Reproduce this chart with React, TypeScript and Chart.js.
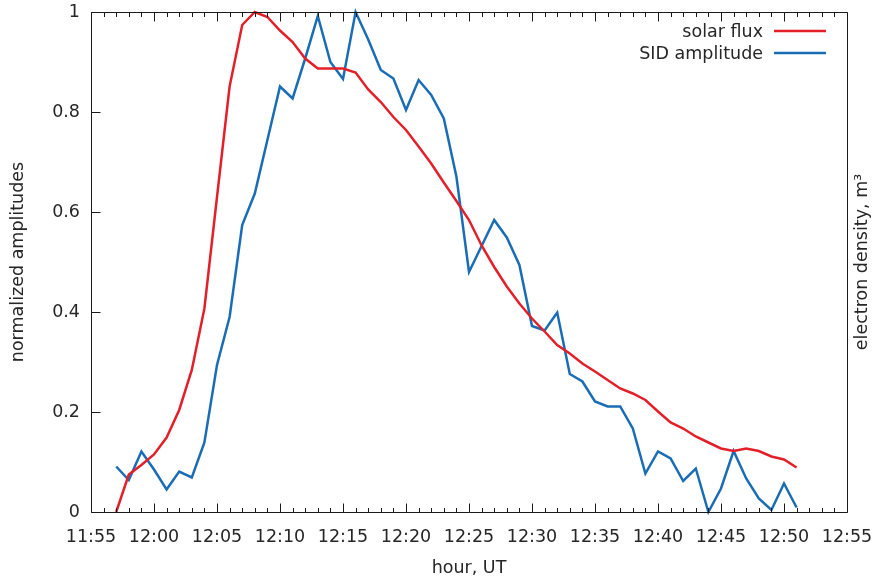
import { useEffect, useRef } from "react";
import { Chart, registerables } from "chart.js";

Chart.register(...registerables);

// Sample times (UT), one per minute
const times = [
  "11:57", "11:58", "11:59",
  "12:00", "12:01", "12:02", "12:03", "12:04", "12:05", "12:06", "12:07", "12:08", "12:09",
  "12:10", "12:11", "12:12", "12:13", "12:14", "12:15", "12:16", "12:17", "12:18", "12:19",
  "12:20", "12:21", "12:22", "12:23", "12:24", "12:25", "12:26", "12:27", "12:28", "12:29",
  "12:30", "12:31", "12:32", "12:33", "12:34", "12:35", "12:36", "12:37", "12:38", "12:39",
  "12:40", "12:41", "12:42", "12:43", "12:44", "12:45", "12:46", "12:47", "12:48", "12:49",
  "12:50", "12:51",
];

const solarFlux = [
  0.0, 0.075, 0.094,
  0.115, 0.149, 0.204, 0.284, 0.407, 0.63, 0.851, 0.974, 1.0, 0.99,
  0.963, 0.94, 0.907, 0.887, 0.887, 0.887, 0.879, 0.845, 0.82, 0.79,
  0.764, 0.731, 0.697, 0.659, 0.622, 0.584, 0.533, 0.49, 0.451, 0.417,
  0.387, 0.361, 0.334, 0.317, 0.297, 0.281, 0.264, 0.247, 0.237, 0.224,
  0.201, 0.179, 0.167, 0.151, 0.139, 0.127, 0.122, 0.127, 0.122, 0.111,
  0.105, 0.089,
];

const sidAmplitude = [
  0.091, 0.064, 0.121,
  0.085, 0.045, 0.081, 0.069, 0.139, 0.294, 0.39, 0.574, 0.637, 0.744,
  0.851, 0.827, 0.907, 0.992, 0.9, 0.866, 1.0, 0.945, 0.884, 0.867,
  0.804, 0.864, 0.834, 0.787, 0.671, 0.48, 0.532, 0.584, 0.549, 0.494,
  0.372, 0.363, 0.399, 0.276, 0.261, 0.221, 0.211, 0.211, 0.167, 0.077,
  0.121, 0.107, 0.062, 0.087, 0.0, 0.047, 0.122, 0.067, 0.027, 0.004,
  0.057, 0.009,
];

const xTickLabels = [
  "11:55", "12:00", "12:05", "12:10", "12:15", "12:20", "12:25",
  "12:30", "12:35", "12:40", "12:45", "12:50", "12:55",
];
const yTickLabels = ["0", "0.2", "0.4", "0.6", "0.8", "1"];

const seriesNames = ["solar flux", "SID amplitude"];
const seriesColors = ["#e3202a", "#1a6db5"];

const xTitle = "hour, UT";
const yTitle = "normalized amplitudes";
const y2Title = "electron density, m\u00b3";

const FONT = "DejaVu Sans";
const FONT_SIZE = 17.5;
const TEXT = "#262626";
const FRAME = "#1a1a1a";
const LINE_W = 2.5;

const toMinutes = (t: string) => {
  const [h, m] = t.split(":").map(Number);
  return h * 60 + m;
};

const xMin = toMinutes(xTickLabels[0]);
const xMax = toMinutes(xTickLabels[xTickLabels.length - 1]);

// Frame, inward tick marks (minor every minute on x), legend and the right-hand title
const framePlugin = {
  id: "gnuplotFrame",
  afterDatasetsDraw(chart: any) {
    const { ctx, chartArea, scales } = chart;
    const { left, right, top, bottom } = chartArea;
    const x = scales.x;
    const y = scales.y;
    ctx.save();
    ctx.strokeStyle = FRAME;
    ctx.lineWidth = 1;

    const L = Math.round(left) + 0.5;
    const R = Math.round(right) + 0.5;
    const T = Math.round(top) + 0.5;
    const B = Math.round(bottom) + 0.5;
    ctx.beginPath();
    ctx.rect(L, T, R - L, B - T);
    ctx.stroke();

    ctx.beginPath();
    for (let m = xMin; m <= xMax; m++) {
      const px = Math.round(x.getPixelForValue(m)) + 0.5;
      const len = (m - xMin) % 5 === 0 ? 9 : 4.5;
      ctx.moveTo(px, B);
      ctx.lineTo(px, B - len);
      ctx.moveTo(px, T);
      ctx.lineTo(px, T + len);
    }
    yTickLabels.forEach((_, i) => {
      const py = Math.round(y.getPixelForValue(i * 0.2)) + 0.5;
      ctx.moveTo(L, py);
      ctx.lineTo(L + 9, py);
    });
    ctx.stroke();

    // legend: text right-aligned, line sample to its right
    ctx.font = `${FONT_SIZE}px "${FONT}"`;
    ctx.textAlign = "right";
    ctx.textBaseline = "middle";
    chart.data.datasets.forEach((ds: any, i: number) => {
      const rowY = top + 19 + i * 22;
      ctx.fillStyle = TEXT;
      ctx.fillText(ds.label, right - 84, rowY + 1);
      ctx.strokeStyle = ds.borderColor;
      ctx.lineWidth = LINE_W;
      ctx.beginPath();
      ctx.moveTo(right - 73, rowY);
      ctx.lineTo(right - 21, rowY);
      ctx.stroke();
    });

    // right-hand axis title
    ctx.fillStyle = TEXT;
    ctx.translate(862, (top + bottom) / 2);
    ctx.rotate(-Math.PI / 2);
    ctx.textAlign = "center";
    ctx.textBaseline = "middle";
    ctx.fillText(y2Title, 0, 0);
    ctx.restore();
  },
};

export default function App() {
  const canvasRef = useRef<HTMLCanvasElement | null>(null);

  useEffect(() => {
    if (!canvasRef.current) return;
    const xs = times.map(toMinutes);
    const chart = new Chart(canvasRef.current, {
      type: "line",
      data: {
        datasets: [
          {
            label: seriesNames[0],
            data: xs.map((m, i) => ({ x: m, y: solarFlux[i] })),
            borderColor: seriesColors[0],
            backgroundColor: seriesColors[0],
            borderWidth: LINE_W,
            pointRadius: 0,
            tension: 0,
            clip: false as any,
          },
          {
            label: seriesNames[1],
            data: xs.map((m, i) => ({ x: m, y: sidAmplitude[i] })),
            borderColor: seriesColors[1],
            backgroundColor: seriesColors[1],
            borderWidth: LINE_W,
            pointRadius: 0,
            tension: 0,
            clip: false as any,
          },
        ],
      },
      options: {
        animation: false,
        responsive: false,
        maintainAspectRatio: false,
        layout: { padding: { top: 12, right: 27, left: 0, bottom: 0 } },
        plugins: {
          legend: { display: false },
          tooltip: { enabled: false },
        },
        scales: {
          x: {
            type: "linear",
            min: xMin,
            max: xMax,
            afterFit: (s: any) => {
              s.height = 74;
              s.paddingLeft = 0;
              s.paddingRight = 0;
            },
            grid: { display: false, drawTicks: false },
            border: { display: false },
            ticks: {
              stepSize: 5,
              padding: 15,
              color: TEXT,
              font: { family: FONT, size: FONT_SIZE },
              maxRotation: 0,
              autoSkip: false,
              callback: (v: any) => {
                const idx = Math.round((Number(v) - xMin) / 5);
                return xTickLabels[idx] ?? "";
              },
            },
            title: {
              display: true,
              text: xTitle,
              color: TEXT,
              font: { family: FONT, size: FONT_SIZE },
              padding: { top: 0, bottom: 7 },
            },
          },
          y: {
            type: "linear",
            min: 0,
            max: 1,
            afterFit: (s: any) => {
              s.width = 91;
              s.paddingTop = 0;
              s.paddingBottom = 0;
            },
            grid: { display: false, drawTicks: false },
            border: { display: false },
            ticks: {
              stepSize: 0.2,
              padding: 11,
              color: TEXT,
              font: { family: FONT, size: FONT_SIZE },
              callback: (v: any) => yTickLabels[Math.round(Number(v) / 0.2)] ?? "",
            },
            title: {
              display: true,
              text: yTitle,
              color: TEXT,
              font: { family: FONT, size: FONT_SIZE },
              padding: { top: 8, bottom: 0 },
            },
          },
        },
      },
      plugins: [framePlugin],
    });
    return () => chart.destroy();
  }, []);

  return (
    <div style={{ position: "absolute", left: 0, top: 0, width: 874, height: 586, background: "#fff" }}>
      <canvas ref={canvasRef} width={874} height={586} />
    </div>
  );
}
